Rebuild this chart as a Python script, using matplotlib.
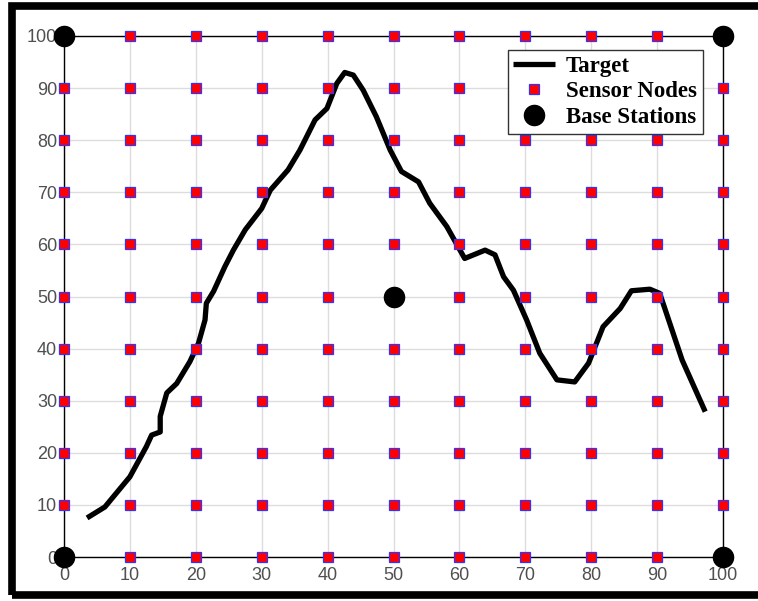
import numpy as np
import matplotlib.pyplot as plt
from matplotlib.patches import Rectangle

# target trajectory
target_x = [3.5, 6.2, 10.0, 12.5, 13.3, 14.6, 14.6, 15.6, 17.1, 19.1, 20.4, 21.4, 21.6,
            22.7, 24.4, 25.7, 27.5, 30.0, 31.3, 34.0, 35.8, 38.1, 39.9, 41.4, 42.6,
            43.9, 45.4, 47.4, 49.5, 51.2, 53.8, 55.5, 58.1, 60.8, 63.9, 65.4, 66.7,
            68.2, 70.2, 72.2, 74.8, 77.5, 79.6, 81.8, 84.4, 86.1, 88.9, 90.4, 93.8, 97.3]
target_y = [7.5, 9.6, 15.4, 21.2, 23.4, 24.0, 27.0, 31.5, 33.3, 37.5, 41.0, 45.5, 48.7,
            51.0, 55.7, 58.9, 62.8, 66.9, 70.4, 74.3, 78.1, 83.9, 86.1, 90.9, 93.0,
            92.5, 89.6, 84.5, 78.1, 74.0, 72.0, 67.9, 63.4, 57.3, 58.9, 58.0, 53.8,
            51.2, 45.5, 39.1, 34.0, 33.6, 37.2, 44.2, 47.7, 51.1, 51.4, 50.6, 37.8, 27.9]

grid_vals = list(range(0, 101, 10))
base_x = [0, 100, 0, 100, 50]
base_y = [0, 0, 100, 100, 50]

sensor_x, sensor_y = [], []
for gx in grid_vals:
    for gy in grid_vals:
        if (gx, gy) in zip(base_x, base_y):
            continue
        sensor_x.append(gx)
        sensor_y.append(gy)

fig = plt.figure(figsize=(7.58, 6.01), dpi=100)
ax = fig.add_axes([64 / 758, 44 / 601, 659 / 758, 521 / 601])

ax.plot(target_x, target_y, color="black", lw=3.8, label="Target", zorder=3,
        solid_joinstyle="round", solid_capstyle="butt")
ax.plot(sensor_x, sensor_y, ls="none", marker="s", ms=7.3, mfc="red", mec="#3333ff",
        mew=0.9, label="Sensor Nodes", zorder=4, clip_on=False)
ax.plot(base_x, base_y, ls="none", marker="o", ms=14.5, color="black",
        label="Base Stations", zorder=5, clip_on=False)

ax.set_xlim(0, 100)
ax.set_ylim(0, 100)
ax.set_xticks(grid_vals)
ax.set_yticks(grid_vals)
ax.grid(True, color="#dddddd", lw=1)
ax.set_axisbelow(True)
ax.tick_params(length=0, labelsize=13, labelcolor="#505050")
ax.tick_params(axis="x", pad=7)
ax.tick_params(axis="y", pad=5)
for lab in ax.get_xticklabels() + ax.get_yticklabels():
    lab.set_family("Liberation Sans")
for s in ax.spines.values():
    s.set_linewidth(1)
    s.set_color("black")

leg = ax.legend(loc="upper right", bbox_to_anchor=(0.969, 0.973), fancybox=False,
                framealpha=1, edgecolor="#333333", borderpad=0.25, labelspacing=0.2,
                handlelength=1.8, handletextpad=0.5, borderaxespad=0,
                prop={"family": "Liberation Serif", "weight": "bold", "size": 16.5})
leg.get_frame().set_linewidth(1)

# thick black frame round the figure (right side falls off the image)
fig.patches.append(Rectangle((11.5 / 758, 6 / 601), 770 / 758, 589 / 601,
                             transform=fig.transFigure, fill=False, lw=5.5,
                             edgecolor="black"))

fig.savefig("out.png", dpi=100)
